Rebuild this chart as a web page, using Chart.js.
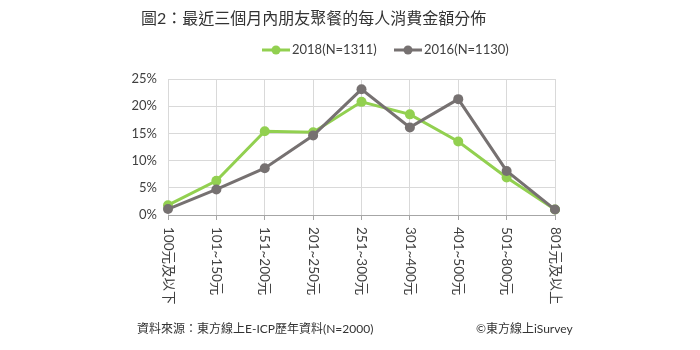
<!DOCTYPE html>
<html>
<head>
<meta charset="utf-8">
<script src="https://cdn.jsdelivr.net/npm/chart.js@4/dist/chart.umd.min.js"></script>
<style>
    html, body { margin: 0; padding: 0; background: #fff; }
    #wrap { position: relative; width: 700px; height: 350px; }
</style>
</head>
<body>
<div id="wrap"><canvas id="chart" width="700" height="350"></canvas></div>
<script>
// data
var categories = ["100元及以下", "101~150元", "151~200元", "201~250元", "251~300元", "301~400元", "401~500元", "501~800元", "801元及以上"];
var series2018 = [1.8, 6.3, 15.4, 15.2, 20.8, 18.5, 13.5, 6.9, 1.0];
var series2016 = [1.1, 4.7, 8.6, 14.6, 23.1, 16.1, 21.3, 8.1, 1.0];
var label2018 = "2018(N=1311)";
var label2016 = "2016(N=1130)";
var titleText = "圖2：最近三個月內朋友聚餐的每人消費金額分佈";
var sourceText = "資料來源：東方線上E-ICP歷年資料(N=2000)";
var creditText = "©東方線上iSurvey";

var FONT = "Lato, 'Noto Sans CJK TC', sans-serif";
var TEXT = "#404040";

// draws title, legend, rotated x labels and footer
var decor = {
    id: "decor",
    afterDraw: function (chart) {
        var ctx = chart.ctx;
        ctx.save();
        ctx.fillStyle = "#333";
        ctx.textBaseline = "middle";
        ctx.textAlign = "left";
        ctx.font = "16px " + FONT;
        ctx.fillText(titleText, 141, 19);

        // legend
        var x = 262;
        chart.data.datasets.forEach(function (ds) {
            ctx.strokeStyle = ds.borderColor;
            ctx.lineWidth = 3;
            ctx.beginPath();
            ctx.moveTo(x, 50);
            ctx.lineTo(x + 28, 50);
            ctx.stroke();
            ctx.fillStyle = ds.borderColor;
            ctx.beginPath();
            ctx.arc(x + 14, 50, 4.5, 0, Math.PI * 2);
            ctx.fill();
            ctx.fillStyle = TEXT;
            ctx.font = "13px " + FONT;
            ctx.fillText(ds.label, x + 30, 50);
            x += 132;
        });

        // x labels, reading top to bottom
        var xs = chart.scales.x;
        ctx.font = "13.5px " + FONT;
        ctx.fillStyle = TEXT;
        xs.ticks.forEach(function (t, i) {
            var px = xs.getPixelForTick(i);
            ctx.save();
            ctx.translate(px, 227);
            ctx.rotate(Math.PI / 2);
            ctx.textAlign = "left";
            ctx.fillText(categories[i], 0, 0);
            ctx.restore();
        });

        // footer
        ctx.font = "12px " + FONT;
        ctx.fillStyle = "#333";
        ctx.fillText(sourceText, 137, 329);
        ctx.fillText(creditText, 476, 329);
        ctx.restore();
    }
};

new Chart(document.getElementById("chart"), {
    type: "line",
    data: {
        labels: categories,
        datasets: [{
            label: label2018,
            data: series2018,
            borderColor: "#92D050",
            backgroundColor: "#92D050",
            borderWidth: 3,
            pointRadius: 5,
            pointBackgroundColor: "#92D050",
            pointBorderWidth: 0,
            tension: 0,
            order: 2
        }, {
            label: label2016,
            data: series2016,
            borderColor: "#767171",
            backgroundColor: "#767171",
            borderWidth: 3,
            pointRadius: 5,
            pointBackgroundColor: "#767171",
            pointBorderWidth: 0,
            tension: 0,
            order: 1
        }]
    },
    options: {
        responsive: false,
        animation: false,
        layout: { padding: { left: 0, right: 145, top: 79, bottom: 0 } },
        plugins: {
            legend: { display: false },
            tooltip: { enabled: false }
        },
        scales: {
            x: {
                offset: false,
                grid: { color: "#d9d9d9", tickLength: 5, tickColor: "#a6a6a6" },
                border: { color: "#a6a6a6", width: 1 },
                ticks: { display: false },
                afterFit: function (s) { s.height = 135; }
            },
            y: {
                min: 0,
                max: 25,
                ticks: {
                    stepSize: 5,
                    padding: 11,
                    color: TEXT,
                    font: { family: FONT, size: 13 },
                    callback: function (v) { return v + "%"; }
                },
                grid: { color: "#d9d9d9", drawTicks: false },
                border: { display: false },
                afterFit: function (s) { s.width = 168; }
            }
        }
    },
    plugins: [decor]
});
</script>
</body>
</html>
